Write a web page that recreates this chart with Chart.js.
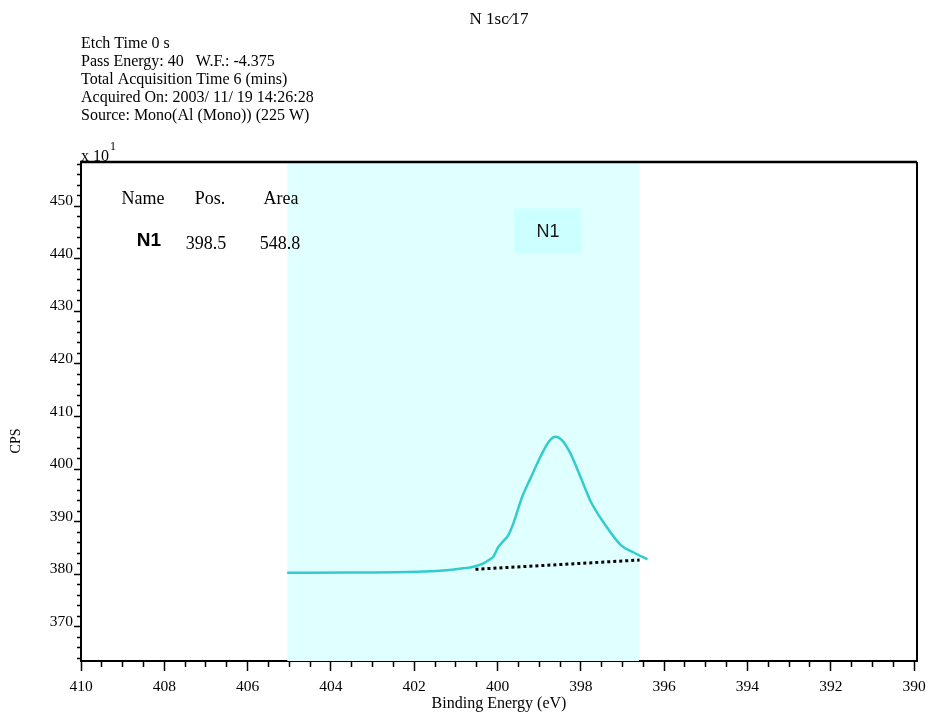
<!DOCTYPE html>
<html>
<head>
<meta charset="utf-8">
<title>N 1s</title>
<script src="https://cdn.jsdelivr.net/npm/chart.js@4.4.1/dist/chart.umd.min.js"></script>
<style>
  html, body { margin: 0; padding: 0; background: #fff; }
  #wrap { width: 928px; height: 713px; position: relative; }
</style>
</head>
<body>
<div id="wrap"><canvas id="xpsChart"></canvas></div>
<script>
// Data (binding energy in eV, CPS in units of x10)
const curveEnergy = [405.05, 403.53, 401.92, 401.37, 400.82, 400.58, 400.34, 400.17, 400.10, 399.98,
                     399.86, 399.74, 399.62, 399.41, 399.21, 398.97, 398.77, 398.61, 398.44, 398.25,
                     398.01, 397.76, 397.44, 397.04, 396.72, 396.40];
const curveCps    = [380.28, 380.32, 380.47, 380.66, 381.12, 381.43, 382.07, 382.90, 383.33, 385.20,
                     386.30, 387.45, 389.68, 394.70, 398.23, 402.34, 405.19, 406.14, 405.38, 402.98,
                     398.54, 393.78, 389.68, 385.55, 384.09, 382.83];

// background line under the peak
const baselineEnergy = [400.53, 396.59];
const baselineCps    = [380.94, 382.70];

// fitting region
const regionEnergy = [405.05, 396.6];

// axis ranges
const xRange = [389.93, 410];
const yRange = [363.5, 458.4];

// header text
const headerLines = [
  'Etch Time 0 s',
  'Pass Energy: 40   W.F.: -4.375',
  'Total Acquisition Time 6 (mins)',
  'Acquired On: 2003/ 11/ 19 14:26:28',
  'Source: Mono(Al (Mono)) (225 W)'
];

// peak table
const tableHead = ['Name', 'Pos.', 'Area'];
const peakNames = ['N1'];
const peakPos   = ['398.5'];
const peakArea  = ['548.8'];
const peakLabelAt = [398.79, 445.3]; // energy, cps of the N1 tag

const SERIF = '"Liberation Serif", "Times New Roman", serif';
const SANS = '"Liberation Sans", Arial, sans-serif';

function isMajor(v, step) {
  return Math.abs(v - Math.round(v / step) * step) < 1e-6;
}

// --- extra drawing: header, table, frame, N1 tag ---
const decorPlugin = {
  id: 'decor',
  afterDatasetsDraw(chart) {
    const ctx = chart.ctx;
    const xs = chart.scales.x, ys = chart.scales.y;
    const cx = xs.getPixelForValue(peakLabelAt[0]);
    const cy = ys.getPixelForValue(peakLabelAt[1]);
    ctx.save();
    ctx.fillStyle = '#ccffff';
    ctx.fillRect(cx - 33.5, cy - 22.5, 67, 45);
    ctx.fillStyle = '#1a1a1a';
    ctx.font = '18px ' + SANS;
    ctx.textAlign = 'center';
    ctx.textBaseline = 'middle';
    ctx.fillText(peakNames[0], cx, cy + 1);
    ctx.restore();
  },
  afterDraw(chart) {
    const ctx = chart.ctx;
    const a = chart.chartArea;
    ctx.save();
    // top and right frame lines
    ctx.strokeStyle = '#000';
    ctx.lineWidth = 2.5;
    ctx.beginPath();
    ctx.moveTo(a.left - 1, a.top);
    ctx.lineTo(a.right, a.top);
    ctx.stroke();
    ctx.lineWidth = 2;
    ctx.beginPath();
    ctx.moveTo(a.right, a.top);
    ctx.lineTo(a.right, a.bottom + 1);
    ctx.stroke();

    ctx.fillStyle = '#000';
    ctx.textBaseline = 'middle';

    // title
    ctx.font = '17px ' + SERIF;
    ctx.textAlign = 'center';
    ctx.fillText('N 1sc\u204417', (a.left + a.right) / 2, 20);

    // header lines
    ctx.font = '16px ' + SERIF;
    ctx.textAlign = 'left';
    headerLines.forEach((t, i) => ctx.fillText(t, 81, 44 + i * 18));

    // multiplier
    ctx.font = '16px ' + SERIF;
    ctx.fillText('x 10', 81, 157);
    ctx.font = '12px ' + SERIF;
    ctx.fillText('1', 110, 147);

    // y title
    ctx.save();
    ctx.translate(16, 441);
    ctx.rotate(-Math.PI / 2);
    ctx.font = '14px ' + SERIF;
    ctx.textAlign = 'center';
    ctx.fillText('CPS', 0, 0);
    ctx.restore();

    // peak table
    ctx.font = '18px ' + SERIF;
    ctx.textAlign = 'center';
    ctx.fillText(tableHead[0], 143, 199);
    ctx.fillText(tableHead[1], 210, 199);
    ctx.fillText(tableHead[2], 281, 199);
    ctx.fillText(peakPos[0], 206, 244);
    ctx.fillText(peakArea[0], 280, 244);
    ctx.font = 'bold 19px ' + SANS;
    ctx.fillText(peakNames[0], 149, 241);
    ctx.restore();
  }
};

const ctxXps = document.getElementById('xpsChart').getContext('2d');
const xpsChart = new Chart(ctxXps, {
  type: 'line',
  data: {
    datasets: [
      {
        label: 'region',
        data: regionEnergy.map(e => ({ x: e, y: yRange[1] })),
        fill: 'start',
        backgroundColor: '#e0ffff',
        borderWidth: 0,
        pointRadius: 0,
        order: 3
      },
      {
        label: 'N 1s',
        data: curveEnergy.map((e, i) => ({ x: e, y: curveCps[i] })),
        borderColor: '#33cccc',
        borderWidth: 2.5,
        pointRadius: 0,
        fill: false,
        cubicInterpolationMode: 'monotone',
        order: 2
      },
      {
        label: 'background',
        data: baselineEnergy.map((e, i) => ({ x: e, y: baselineCps[i] })),
        borderColor: '#000',
        borderWidth: 3,
        borderDash: [3, 3],
        pointRadius: 0,
        fill: false,
        order: 1
      }
    ]
  },
  options: {
    responsive: true,
    maintainAspectRatio: false,
    animation: false,
    devicePixelRatio: 1,
    layout: { padding: { top: 162, right: 11, left: 0, bottom: 0 } },
    plugins: { legend: { display: false }, tooltip: { enabled: false } },
    scales: {
      x: {
        type: 'linear',
        reverse: true,
        min: xRange[0],
        max: xRange[1],
        afterFit: s => { s.height = 52; s.paddingLeft = 0; s.paddingRight = 0; },
        ticks: {
          stepSize: 0.5,
          includeBounds: false,
          autoSkip: false,
          maxRotation: 0,
          minRotation: 0,
          padding: 7,
          color: '#000',
          font: { family: SERIF, size: 15.5 },
          callback: v => isMajor(v, 2) ? String(Math.round(v)) : ''
        },
        grid: {
          drawOnChartArea: false,
          tickLength: 10,
          tickColor: '#000',
          tickWidth: 1.5,
          tickBorderDash: c => (c.tick && isMajor(c.tick.value, 2)) ? [] : [5, 100]
        },
        border: { color: '#000', width: 2 },
        title: {
          display: true,
          text: 'Binding Energy (eV)',
          color: '#000',
          font: { family: SERIF, size: 16 },
          padding: { top: 0, bottom: 0 }
        }
      },
      y: {
        type: 'linear',
        min: yRange[0],
        max: yRange[1],
        afterFit: s => { s.width = 81; s.paddingTop = 0; s.paddingBottom = 0; },
        ticks: {
          stepSize: 2,
          includeBounds: false,
          autoSkip: false,
          padding: 1,
          labelOffset: -5,
          color: '#000',
          font: { family: SERIF, size: 15.5 },
          callback: v => isMajor(v, 10) ? String(Math.round(v)) : ''
        },
        grid: {
          drawOnChartArea: false,
          tickLength: 7,
          tickColor: '#000',
          tickWidth: 1.5,
          tickBorderDash: c => (c.tick && isMajor(c.tick.value, 10)) ? [] : [0, 3, 4, 100]
        },
        border: { color: '#000', width: 2 }
      }
    }
  },
  plugins: [decorPlugin]
});
</script>
</body>
</html>
